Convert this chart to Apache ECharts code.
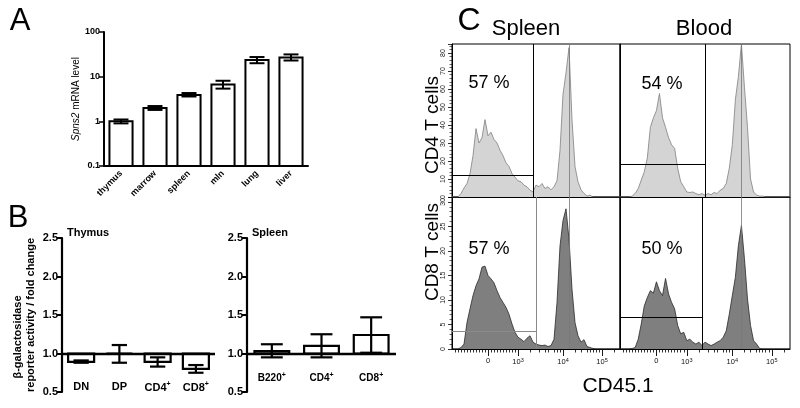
<!DOCTYPE html>
<html>
<head>
<meta charset="utf-8">
<script src="https://cdn.jsdelivr.net/npm/echarts@6/dist/echarts.min.js"></script>
<style>
  html, body { margin: 0; padding: 0; background: #fff; }
  #chart { width: 800px; height: 408px; }
</style>
</head>
<body>
<div id="chart"></div>
<script>
// ---- panel A : Spns2 mRNA level (log) ----
var tissues = ['thymus', 'marrow', 'spleen', 'mln', 'lung', 'liver'];
var spns2Mean = [1.0, 2.0, 3.9, 6.7, 23.5, 27];
var spns2Lo = [0.9, 1.8, 3.6, 5.4, 20, 23];
var spns2Hi = [1.1, 2.2, 4.3, 8.1, 27.5, 31.5];

// ---- panel B : reporter activity / fold change ----
var thymusCells = ['DN', 'DP', 'CD4+', 'CD8+'];
var thymusMean = [0.89, 1.0, 0.89, 0.80];
var thymusLo = [0.88, 0.88, 0.83, 0.75];
var thymusHi = [0.91, 1.11, 0.95, 0.85];

var spleenCells = ['B220+', 'CD4+', 'CD8+'];
var spleenMean = [1.03, 1.10, 1.24];
var spleenLo = [0.95, 0.95, 1.01];
var spleenHi = [1.12, 1.25, 1.47];

// ---- panel C : CD45.1 histograms (counts per channel bin) ----
var cd4Spleen = [0, 0, 0, 2, 5, 7.5, 13, 23, 38, 30, 33, 43, 34, 36, 32, 30, 26, 23, 19, 17,
  13, 11, 9, 8.5, 6.6, 5.7, 3.8, 2.8, 6.6, 5.7, 7.5, 4.7, 5.7, 4, 5.7, 9, 26, 57, 69, 83,
  43, 17, 8.5, 4, 2, 0.5, 1, 0, 0, 0, 0, 0, 0, 0, 0, 0, 0];
var cd4Blood = [0, 0, 0, 0, 0.5, 2, 4.7, 9.4, 14, 21.7, 38.7, 44, 48, 57.5, 44, 38.7, 33, 29, 27, 16,
  8.5, 5.7, 2.8, 2.5, 2.8, 1.9, 1.3, 1.9, 1, 1.9, 1.3, 2.5, 1.9, 3.8, 4.7, 7.5, 16, 29, 54, 67,
  85, 61, 38.7, 10, 2.8, 1, 0.5, 0.5, 0, 0, 0, 0, 0, 0, 0, 0, 0];
var cd8Spleen = [0, 0, 0, 0.3, 1, 5.4, 8.2, 10.9, 12.9, 14.3, 16.7, 16.9, 15, 14.3, 13.5, 11.9, 10.5, 9.5, 8.5, 7.1,
  5.1, 3.4, 2.4, 2, 1.5, 2.2, 2.7, 1.4, 1, 0.8, 0.7, 0.8, 0.5, 0.7, 2, 9.5, 21, 26.2, 28.6, 22.4,
  12.2, 5.4, 2.7, 1.4, 1.9, 0.5, 0.3, 0.1, 0, 0, 0, 0, 0, 0, 0, 0, 0];
var cd8Blood = [0, 0, 0, 0, 0.1, 0.3, 2, 5.1, 8.8, 10.5, 11.9, 11.4, 13.7, 11.9, 10.9, 14.4, 11.2, 9.5, 8.2, 4.8,
  3.1, 3.4, 1.7, 2, 1.4, 1, 1.4, 0.7, 1.4, 1, 0.7, 1, 1.4, 1.7, 2.4, 3.7, 7.1, 10.9, 14.6, 21.1,
  25.2, 18.4, 10.2, 4.8, 1.7, 1, 0.1, 0, 0, 0, 0, 0, 0, 0, 0, 0, 0];
var channels = cd4Spleen.map(function (d, i) { return i; });

// gates: [vertical channel, horizontal count level], plus the reference line near 10^4
var gateX = [27, 28, 28, 27];
var gateY = [11.9, 18.4, 3.7, 6.5];
var refX = [39, 40, 39, 40];
var gatePct = ['57 %', '54 %', '57 %', '50 %'];

// biexponential axis ticks
var majorTicks = [12, 22, 37, 50];
var majorLabels = ['0', '10^3', '10^4', '10^5'];
var minorTicks = [1, 2, 3, 4, 5, 6, 7, 8, 9, 10, 11, 13, 14, 15, 16, 17, 18, 19, 20, 21,
  26, 29, 31, 32, 34, 35, 36, 41, 43, 45, 46, 47, 48, 49, 54];

var FONT = 'Liberation Sans, Arial, Helvetica, sans-serif';
var chart = echarts.init(document.getElementById('chart'));

function barErr(baseVal, barRatio, capRatio, lw) {
  return function (params, api) {
    var i = api.value(0);
    var pv = api.coord([i, api.value(1)]);
    var pl = api.coord([i, api.value(2)]);
    var ph = api.coord([i, api.value(3)]);
    var pb = api.coord([i, baseVal]);
    var band = api.size([1, 1])[0];
    var w = band * barRatio, c = band * capRatio, x = pv[0];
    var st = { stroke: '#000', lineWidth: lw };
    return {
      type: 'group',
      children: [
        { type: 'rect', shape: { x: x - w / 2, y: Math.min(pb[1], pv[1]), width: w, height: Math.abs(pb[1] - pv[1]) },
          style: { fill: '#fff', stroke: '#000', lineWidth: lw } },
        { type: 'line', shape: { x1: x, y1: pl[1], x2: x, y2: ph[1] }, style: st },
        { type: 'line', shape: { x1: x - c / 2, y1: pl[1], x2: x + c / 2, y2: pl[1] }, style: st },
        { type: 'line', shape: { x1: x - c / 2, y1: ph[1], x2: x + c / 2, y2: ph[1] }, style: st }
      ]
    };
  };
}

function rows(mean, lo, hi) {
  return mean.map(function (m, i) { return [i, m, lo[i], hi[i]]; });
}

function supLabel(v) {
  return v.slice(-1) === '+' ? '{b|' + v.slice(0, -1) + '}{s|+}' : '{b|' + v + '}';
}

var bRich = {
  b: { fontFamily: FONT, fontWeight: 'bold', fontSize: 11, color: '#000' },
  s: { fontFamily: FONT, fontWeight: 'bold', fontSize: 7, color: '#000', verticalAlign: 'top', padding: [0, 0, 6, 0] }
};

function histY(grid, max, interval, showLabels) {
  return {
    type: 'value', gridIndex: grid, min: 0, max: max, interval: interval,
    axisLine: { show: true, lineStyle: { color: '#000', width: 1 } },
    axisTick: { show: showLabels, length: 4, lineStyle: { color: '#000', width: 0.8 } },
    minorTick: { show: showLabels, splitNumber: 5, length: 2.5, lineStyle: { color: '#000', width: 0.6 } },
    axisLabel: { show: showLabels, rotate: 90, fontSize: 7, color: '#222', margin: 5, fontFamily: FONT, showMaxLabel: false },
    splitLine: { show: false }
  };
}

function histX(grid, bottomRow) {
  return {
    type: 'category', gridIndex: grid, data: channels, boundaryGap: false,
    axisLine: { show: true, lineStyle: { color: '#000', width: 1 } },
    axisTick: bottomRow ? { show: true, length: 3.5, interval: function (i) { return minorTicks.indexOf(i) >= 0; },
      lineStyle: { color: '#000', width: 0.8 } } : { show: false },
    axisLabel: { show: false },
    splitLine: { show: false }
  };
}

function histMajorX(grid) {
  return {
    type: 'category', gridIndex: grid, data: channels, boundaryGap: false, position: 'bottom',
    axisLine: { show: false },
    axisTick: { show: true, length: 7, interval: function (i) { return majorTicks.indexOf(i) >= 0; },
      lineStyle: { color: '#000', width: 0.9 } },
    axisLabel: {
      show: true, margin: 8, interval: function (i) { return majorTicks.indexOf(i) >= 0; },
      formatter: function (v) {
        var t = majorLabels[majorTicks.indexOf(Number(v))] || '';
        var p = t.split('^');
        return p.length > 1 ? '{n|' + p[0] + '}{e|' + p[1] + '}' : '{n|' + t + '}';
      },
      rich: {
        n: { fontFamily: FONT, fontSize: 7.5, color: '#111' },
        e: { fontFamily: FONT, fontSize: 5.5, color: '#111', verticalAlign: 'top', padding: [0, 0, 4, 0] }
      }
    },
    splitLine: { show: false }
  };
}

var histSets = [
  { data: cd4Spleen, grid: 3, fill: '#d4d4d4', line: '#808080', gate: '#000' },
  { data: cd4Blood, grid: 4, fill: '#d4d4d4', line: '#808080', gate: '#000' },
  { data: cd8Spleen, grid: 5, fill: '#7f7f7f', line: '#2a2a2a', gate: '#8a8a8a' },
  { data: cd8Blood, grid: 6, fill: '#7f7f7f', line: '#2a2a2a', gate: '#000' }
];

var histSeries = histSets.map(function (h, k) {
  return {
    type: 'line', xAxisIndex: h.grid, yAxisIndex: h.grid, data: h.data,
    symbol: 'none', smooth: false,
    lineStyle: { color: h.line, width: 0.8 },
    areaStyle: { color: h.fill, opacity: 1 },
    markLine: {
      silent: true, symbol: 'none', label: { show: false },
      lineStyle: { color: h.gate, width: 1, type: 'solid' },
      data: [
        { xAxis: gateX[k] },
        [{ coord: [0, gateY[k]] }, { coord: [gateX[k], gateY[k]] }],
        { xAxis: refX[k], lineStyle: { color: '#777', width: 0.8, type: 'solid' } }
      ]
    }
  };
});

function txt(x, y, s, size, opts) {
  opts = opts || {};
  return {
    type: 'text', x: x, y: y, rotation: opts.rot || 0,
    style: {
      text: s, fill: '#000', textAlign: opts.align || 'center', textVerticalAlign: 'middle',
      font: (opts.bold ? 'bold ' : '') + size + 'px ' + FONT
    }
  };
}

var texts = [
  txt(20, 21, 'A', 31), txt(18, 218, 'B', 31), txt(469, 21, 'C', 32),
  txt(67, 233, 'Thymus', 11, { align: 'left', bold: true }),
  txt(252, 233, 'Spleen', 11, { align: 'left', bold: true }),
  txt(18, 337, 'β-galactosidase', 11, { bold: true, rot: Math.PI / 2 }),
  txt(31, 315, 'reporter activity / fold change', 11, { bold: true, rot: Math.PI / 2 }),
  txt(526, 29, 'Spleen', 22), txt(704, 29, 'Blood', 22),
  txt(433, 125, 'CD4 T cells', 19, { rot: Math.PI / 2 }),
  txt(433, 252, 'CD8 T cells', 19, { rot: Math.PI / 2 }),
  txt(618, 386, 'CD45.1', 21),
  txt(489, 83, gatePct[0], 18), txt(662, 84, gatePct[1], 18),
  txt(489, 249, gatePct[2], 18), txt(662, 249, gatePct[3], 18)
];

var option = {
  animation: false,
  backgroundColor: '#fff',
  graphic: { elements: texts },
  grid: [
    { left: 104, top: 32, width: 204, height: 134 },
    { left: 62, top: 238, width: 153, height: 154 },
    { left: 247, top: 238, width: 149, height: 154 },
    { left: 452, top: 44, width: 168, height: 153, show: true, borderColor: '#000', borderWidth: 1 },
    { left: 620, top: 44, width: 170, height: 153, show: true, borderColor: '#000', borderWidth: 1 },
    { left: 452, top: 197, width: 168, height: 152, show: true, borderColor: '#000', borderWidth: 1 },
    { left: 620, top: 197, width: 170, height: 152, show: true, borderColor: '#000', borderWidth: 1 }
  ],
  xAxis: [
    {
      type: 'category', gridIndex: 0, data: tissues,
      axisLine: { lineStyle: { color: '#000', width: 2 } },
      axisTick: { alignWithLabel: true, length: 4, lineStyle: { color: '#000', width: 1.5 } },
      axisLabel: { interval: 0, rotate: 45, fontSize: 9, fontWeight: 'bold', color: '#000', fontFamily: FONT, margin: 6 }
    },
    {
      type: 'category', gridIndex: 1, data: thymusCells,
      axisLine: { show: false }, axisTick: { show: false },
      axisLabel: { interval: 0, margin: -11, formatter: supLabel, rich: bRich }
    },
    {
      type: 'category', gridIndex: 2, data: spleenCells,
      axisLine: { show: false }, axisTick: { show: false },
      axisLabel: { interval: 0, margin: -20, formatter: supLabel,
        rich: { b: Object.assign({}, bRich.b, { fontSize: 10 }), s: bRich.s } }
    },
    histX(3, false), histX(4, false), histX(5, true), histX(6, true),
    histMajorX(5), histMajorX(6)
  ],
  yAxis: [
    {
      type: 'log', gridIndex: 0, logBase: 10, min: 0.1, max: 100,
      name: '{i|Spns2} mRNA level', nameLocation: 'middle', nameGap: 18,
      nameTextStyle: { fontFamily: FONT, fontSize: 10, color: '#000',
        rich: { i: { fontStyle: 'italic', fontFamily: FONT, fontSize: 10, color: '#000' } } },
      axisLine: { show: true, lineStyle: { color: '#000', width: 2 } },
      axisTick: { show: true, length: 5, lineStyle: { color: '#000', width: 1.5 } },
      axisLabel: { fontSize: 9, fontWeight: 'bold', color: '#000', fontFamily: FONT, margin: 4 },
      splitLine: { show: false }
    },
    {
      type: 'value', gridIndex: 1, min: 0.5, max: 2.5, interval: 0.5,
      axisLine: { show: true, lineStyle: { color: '#000', width: 2.2 } },
      axisTick: { show: true, length: 5, lineStyle: { color: '#000', width: 2 } },
      axisLabel: { fontSize: 11, fontWeight: 'bold', color: '#000', fontFamily: FONT, margin: 4,
        formatter: function (v) { return v.toFixed(1); } },
      splitLine: { show: false }
    },
    {
      type: 'value', gridIndex: 2, min: 0.5, max: 2.5, interval: 0.5,
      axisLine: { show: true, lineStyle: { color: '#000', width: 2.2 } },
      axisTick: { show: true, length: 5, lineStyle: { color: '#000', width: 2 } },
      axisLabel: { fontSize: 11, fontWeight: 'bold', color: '#000', fontFamily: FONT, margin: 4,
        formatter: function (v) { return v.toFixed(1); } },
      splitLine: { show: false }
    },
    histY(3, 85, 10, true), histY(4, 85, 10, false),
    histY(5, 31, 5, true), histY(6, 31, 5, false)
  ],
  series: [
    {
      type: 'custom', xAxisIndex: 0, yAxisIndex: 0,
      renderItem: barErr(0.1, 0.68, 0.44, 2),
      encode: { x: 0, y: [1, 2, 3] },
      data: rows(spns2Mean, spns2Lo, spns2Hi)
    },
    {
      type: 'custom', xAxisIndex: 1, yAxisIndex: 1,
      renderItem: barErr(1, 0.68, 0.4, 2.2),
      encode: { x: 0, y: [1, 2, 3] },
      data: rows(thymusMean, thymusLo, thymusHi),
      markLine: { silent: true, symbol: 'none', label: { show: false },
        lineStyle: { color: '#000', width: 2.4, type: 'solid' }, data: [{ yAxis: 1 }] }
    },
    {
      type: 'custom', xAxisIndex: 2, yAxisIndex: 2,
      renderItem: barErr(1, 0.7, 0.44, 2.2),
      encode: { x: 0, y: [1, 2, 3] },
      data: rows(spleenMean, spleenLo, spleenHi),
      markLine: { silent: true, symbol: 'none', label: { show: false },
        lineStyle: { color: '#000', width: 2.4, type: 'solid' }, data: [{ yAxis: 1 }] }
    }
  ].concat(histSeries)
};

chart.setOption(option);
</script>
</body>
</html>
